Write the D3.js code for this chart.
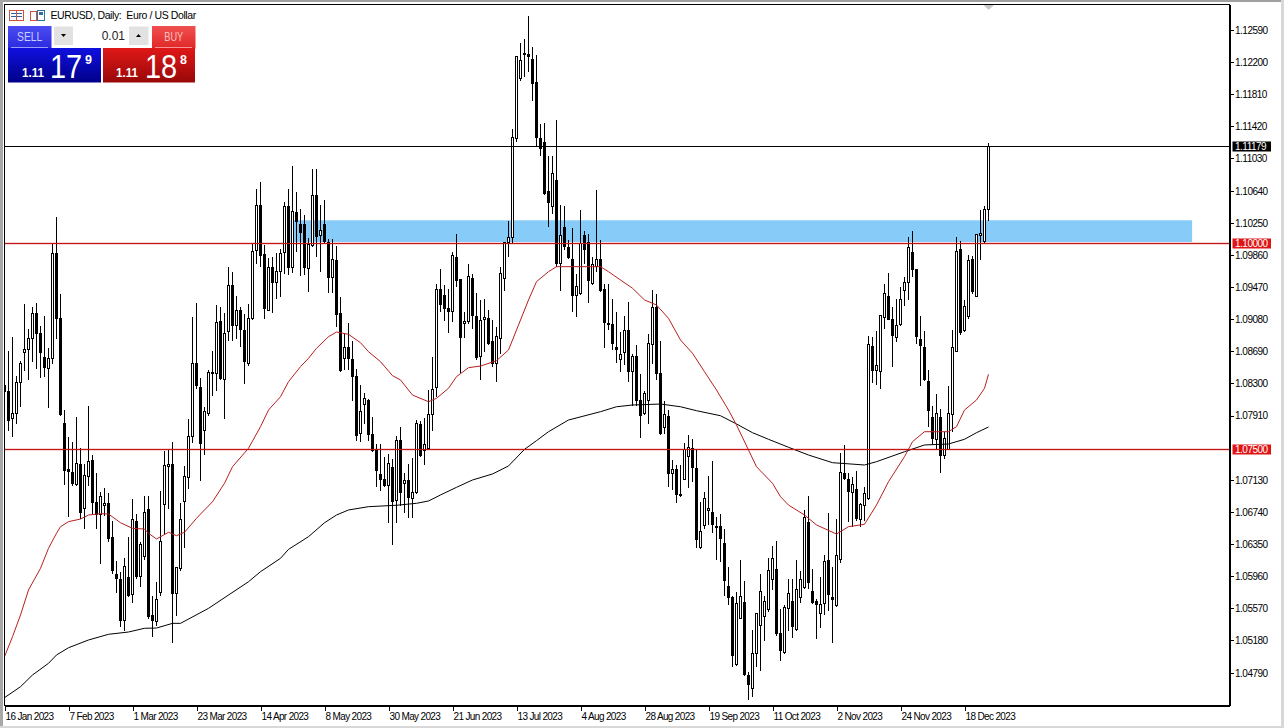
<!DOCTYPE html>
<html>
<head>
<meta charset="utf-8">
<script src="https://cdn.jsdelivr.net/npm/d3@7"></script>
<style>
  html, body { margin: 0; padding: 0; background: #fff; overflow: hidden; }
  svg { display: block; }
  text { font-family: "Liberation Sans", sans-serif; }
  .axis text { font-size: 10px; letter-spacing: -0.5px; fill: #000; }
  .axis.dates text { letter-spacing: -0.65px; }
  .axis path, .axis line { stroke: #000; shape-rendering: crispEdges; }
</style>
</head>
<body>
<svg id="chart" width="1284" height="728"></svg>
<script>
//  ======================= DATA =======================
const open = [1.08280,1.08208,1.07872,1.07937,1.08313,1.08673,1.08713,1.08847,1.09150,1.08900,
1.08616,1.08483,1.08604,1.09879,1.09090,1.07815,1.07257,1.07220,1.07079,1.07318,
1.06779,1.07168,1.07370,1.06856,1.06715,1.06816,1.06844,1.06431,1.05986,1.05926,
1.05420,1.05946,1.05740,1.06622,1.05962,1.06197,1.06771,1.05485,1.05412,1.05760,
1.06832,1.07289,1.07318,1.05752,1.06055,1.06864,1.07160,1.07661,1.08543,1.08252,
1.07726,1.07937,1.08418,1.08422,1.09053,1.08349,1.08928,1.09490,1.09001,1.09187,
1.08944,1.08544,1.09090,1.09915,1.10461,1.09867,1.09191,1.09709,1.09523,1.09660,
1.09887,1.10453,1.09709,1.10380,1.10223,1.10231,1.09697,1.09980,1.10583,1.10093,
1.10223,1.10008,1.09587,1.09794,1.09150,1.08600,1.08738,1.08592,1.08390,1.07694,
1.08046,1.08098,1.07682,1.07504,1.07196,1.07136,1.07063,1.07281,1.06877,1.07613,
1.07085,1.07116,1.06906,1.06978,1.07804,1.07480,1.07513,1.07917,1.08253,1.09434,
1.09370,1.09212,1.09171,1.09831,1.09556,1.09030,1.09050,1.09576,1.09111,1.08625,
1.09070,1.09090,1.08803,1.08536,1.08848,1.09576,1.10009,1.10070,1.11275,1.12004,
1.12303,1.12295,1.12234,1.11955,1.11275,1.11227,1.10624,1.10446,1.10765,1.09750,
1.10195,1.09944,1.09807,1.09366,1.09386,1.10098,1.10009,1.09507,1.09718,1.09807,
1.09434,1.09030,1.09018,1.08738,1.08589,1.08674,1.08945,1.08443,1.08629,1.08091,
1.07933,1.08091,1.08771,1.09224,1.08423,1.07763,1.07901,1.07209,1.07258,1.06954,
1.07136,1.07419,1.07512,1.07270,1.06307,1.06574,1.06752,1.06736,1.06558,1.06558,
1.06359,1.05841,1.05704,1.04891,1.05449,1.05647,1.04757,1.04599,1.05024,1.05364,
1.05469,1.05562,1.05922,1.06044,1.05259,1.05032,1.05566,1.05655,1.05315,1.05704,
1.05825,1.06618,1.05776,1.05655,1.05509,1.05623,1.06145,1.05704,1.05610,1.06165,
1.07209,1.07128,1.06974,1.07014,1.06650,1.06816,1.06905,1.08754,1.08455,1.08447,
1.09098,1.09361,1.09070,1.08859,1.09013,1.09426,1.09527,1.09895,1.09677,1.08835,
1.08738,1.08329,1.07888,1.07621,1.07888,1.07431,1.07500,1.07925,1.08685,1.09928,
1.08940,1.09110,1.09798,1.09353,1.10097,1.10017,1.10413];

const high = [1.08341,1.08697,1.08875,1.08402,1.08584,1.09264,1.08968,1.09231,1.09284,1.08997,
1.09130,1.08738,1.10012,1.10332,1.09393,1.07985,1.07661,1.07601,1.07904,1.07524,
1.07330,1.08038,1.07439,1.07220,1.06986,1.07038,1.06978,1.06642,1.06156,1.06015,
1.06189,1.06440,1.06905,1.06723,1.06379,1.06945,1.06945,1.05731,1.05901,1.07006,
1.07483,1.07500,1.07601,1.06075,1.06852,1.07309,1.07876,1.09118,1.09284,1.08374,
1.08018,1.08471,1.08705,1.09260,1.09239,1.09159,1.09721,1.09656,1.09373,1.09231,
1.09150,1.09272,1.10000,1.10668,1.10749,1.09992,1.09830,1.09838,1.09895,1.09939,
1.10506,1.10668,1.10951,1.10635,1.10425,1.10352,1.10073,1.10910,1.10910,1.10474,
1.10534,1.10061,1.10061,1.09980,1.09349,1.08908,1.09041,1.08827,1.08483,1.08281,
1.08188,1.08119,1.07896,1.07573,1.07573,1.07411,1.07451,1.07390,1.07674,1.07783,
1.07216,1.07334,1.07395,1.07868,1.07844,1.07889,1.08232,1.08624,1.09515,1.09697,
1.09495,1.09455,1.09900,1.10114,1.09564,1.09171,1.09758,1.09637,1.09402,1.09313,
1.09333,1.09192,1.09070,1.08989,1.09718,1.10021,1.10272,1.11397,1.12275,1.12441,
1.12489,1.12760,1.12388,1.12287,1.11449,1.11469,1.11061,1.11061,1.11498,1.10474,
1.10454,1.10041,1.10195,1.09637,1.10414,1.10155,1.10114,1.09839,1.10648,1.10041,
1.09515,1.09515,1.09333,1.09171,1.08928,1.09123,1.09293,1.08665,1.08767,1.08415,
1.08220,1.08908,1.09442,1.09394,1.08815,1.08087,1.07978,1.07371,1.07310,1.07310,
1.07585,1.07686,1.07634,1.07512,1.06865,1.06986,1.07177,1.07359,1.06683,1.06723,
1.06541,1.06084,1.05732,1.05773,1.06157,1.05914,1.04802,1.05315,1.05510,1.05995,
1.05732,1.06189,1.06335,1.06388,1.05570,1.05611,1.05934,1.05934,1.06157,1.06035,
1.06772,1.06934,1.06056,1.05691,1.05962,1.06229,1.06731,1.06076,1.06662,1.07459,
1.07553,1.07217,1.07168,1.07249,1.06853,1.07055,1.08876,1.08867,1.08948,1.09139,
1.09515,1.09648,1.09232,1.09333,1.09482,1.09596,1.10089,1.10162,1.09685,1.09130,
1.08948,1.08463,1.08038,1.08172,1.07998,1.07714,1.08269,1.08957,1.10089,1.10033,
1.09313,1.09867,1.09847,1.10122,1.10405,1.10454,1.11230];

const low = [1.08139,1.07734,1.07653,1.07815,1.08017,1.08454,1.08349,1.08564,1.08483,1.08369,
1.08382,1.08009,1.08543,1.08847,1.07916,1.07079,1.06682,1.07067,1.07067,1.06662,
1.06541,1.07059,1.06723,1.06541,1.06116,1.06703,1.06379,1.05994,1.05760,1.05347,
1.05307,1.05711,1.05638,1.05934,1.05841,1.06164,1.05448,1.05226,1.05367,1.05723,
1.06480,1.06783,1.05153,1.05489,1.06027,1.06310,1.07026,1.07581,1.08240,1.07119,
1.07439,1.07916,1.08159,1.08220,1.08349,1.07876,1.08819,1.08827,1.08847,1.08746,
1.08301,1.08523,1.09070,1.09757,1.09717,1.09090,1.09179,1.09159,1.09333,1.09361,
1.09636,1.09628,1.09644,1.09907,1.09604,1.09628,1.09413,1.09960,1.09846,1.09656,
1.10008,1.09401,1.09401,1.08989,1.08442,1.08463,1.08463,1.08098,1.07613,1.07593,
1.07815,1.07613,1.07471,1.07055,1.06998,1.07047,1.06610,1.06347,1.06610,1.06824,
1.06731,1.06670,1.06667,1.06966,1.07419,1.07322,1.07504,1.07726,1.08139,1.09171,
1.09062,1.08916,1.09050,1.09475,1.08431,1.08856,1.09022,1.08969,1.08593,1.08350,
1.08686,1.08767,1.08504,1.08322,1.08666,1.09426,1.09839,1.10009,1.11235,1.11975,
1.12024,1.12084,1.11732,1.11182,1.11065,1.10587,1.10203,1.10365,1.09718,1.09426,
1.09920,1.09819,1.09171,1.09111,1.09374,1.09758,1.09281,1.09495,1.09657,1.09414,
1.08734,1.08949,1.08706,1.08552,1.08443,1.08524,1.08322,1.08038,1.08038,1.07642,
1.07917,1.07808,1.08536,1.08350,1.07686,1.07694,1.07047,1.07015,1.06853,1.06926,
1.07128,1.07035,1.07108,1.06311,1.06299,1.06541,1.06582,1.06489,1.06157,1.06137,
1.05732,1.05611,1.04862,1.04882,1.05441,1.04757,1.04458,1.04498,1.04870,1.04814,
1.05178,1.05530,1.05801,1.05239,1.04935,1.05024,1.05307,1.05218,1.05299,1.05639,
1.05813,1.05813,1.05631,1.05206,1.05339,1.05501,1.05550,1.05157,1.05598,1.06124,
1.07136,1.06622,1.06569,1.06642,1.06561,1.06642,1.06893,1.08309,1.08281,1.08240,
1.08969,1.09070,1.08511,1.08807,1.08997,1.09240,1.09313,1.09596,1.08787,1.08269,
1.08341,1.07775,1.07553,1.07512,1.07217,1.07391,1.07499,1.07714,1.08683,1.08888,
1.08928,1.09082,1.09393,1.09351,1.09798,1.10000,1.10275];

const close = [1.08200,1.07856,1.07937,1.08313,1.08543,1.08713,1.08847,1.09150,1.08900,1.08673,
1.08491,1.08604,1.09879,1.09090,1.07928,1.07241,1.07229,1.07087,1.07330,1.06731,
1.07184,1.07354,1.06856,1.06715,1.06929,1.06844,1.06419,1.06027,1.05930,1.05420,
1.06075,1.05731,1.06650,1.05954,1.06351,1.06735,1.05477,1.05420,1.05679,1.06383,
1.07305,1.07318,1.05752,1.06067,1.06650,1.07176,1.07661,1.08543,1.08272,1.07573,
1.07965,1.08434,1.08434,1.09041,1.08357,1.08908,1.09490,1.09001,1.09187,1.08960,
1.08564,1.09090,1.09903,1.10461,1.09854,1.09211,1.09709,1.09523,1.09660,1.09879,
1.10453,1.09709,1.10389,1.10263,1.10130,1.09709,1.09984,1.10575,1.10089,1.10158,
1.10020,1.09587,1.09806,1.09134,1.08455,1.08738,1.08600,1.08382,1.07674,1.07965,
1.08119,1.07686,1.07484,1.07241,1.07136,1.07063,1.07330,1.06864,1.07613,1.06974,
1.07122,1.06913,1.06978,1.07816,1.07431,1.07561,1.07925,1.08229,1.09442,1.09256,
1.09208,1.09171,1.09855,1.09548,1.08856,1.09054,1.09596,1.09119,1.08617,1.09066,
1.09099,1.08779,1.08536,1.08872,1.09637,1.10009,1.10070,1.11287,1.12263,1.12222,
1.12307,1.12267,1.11943,1.11283,1.11154,1.10608,1.10494,1.10850,1.09750,1.10098,
1.09960,1.09831,1.09366,1.09479,1.10001,1.09920,1.09548,1.09738,1.09807,1.09422,
1.09038,1.09013,1.08779,1.08706,1.08653,1.08945,1.08443,1.08629,1.08091,1.07905,
1.08180,1.08787,1.09224,1.08419,1.07694,1.07925,1.07209,1.07258,1.06954,1.06938,
1.07492,1.07525,1.07282,1.06408,1.06505,1.06905,1.06776,1.06586,1.06553,1.06420,
1.05906,1.05700,1.04992,1.05631,1.05716,1.04765,1.04640,1.05024,1.05502,1.05777,
1.05655,1.06032,1.06177,1.05259,1.05056,1.05582,1.05752,1.05348,1.05801,1.05922,
1.06675,1.05882,1.05639,1.05614,1.05619,1.06140,1.05740,1.05679,1.06213,1.07221,
1.07152,1.06986,1.07075,1.06662,1.06832,1.06966,1.08774,1.08455,1.08520,1.09130,
1.09393,1.09078,1.08880,1.09005,1.09321,1.09523,1.09944,1.09685,1.08867,1.08758,
1.08346,1.07969,1.07629,1.07929,1.07431,1.07633,1.07937,1.08738,1.09907,1.08920,
1.09228,1.09794,1.09410,1.10102,1.10122,1.10413,1.11179];

//  Moving averages, read at the bars where the line bends
const fastIdx = [0,2,4,6,9,11,13,14,16,19,21,24,26,29,32,35,36,38,41,43,45,48,50,52,55,57,61,64,66,69,71,74,76,78,81,83,86,89,91,94,97,99,102,106,108,111,113,116,119,123,126,128,131,133,136,138,142,149,151,154,157,160,163,166,169,172,175,178,181,183,186,188,192,194,196,200,203,208,211,215,218,221,225,227,230,233,236,238,240,243,245,246];
const fastMA = [1.04983,1.05226,1.05489,1.05793,1.06056,1.06299,1.06481,1.06561,1.06622,1.06654,1.06703,1.06719,1.06715,1.06609,1.06541,1.06533,1.06481,1.06412,1.06493,1.06452,1.06493,1.06663,1.06764,1.06864,1.07088,1.07289,1.07513,1.07775,1.07977,1.08139,1.08321,1.08503,1.08605,1.08726,1.08867,1.08924,1.08896,1.08794,1.08685,1.08564,1.08394,1.08342,1.08159,1.08078,1.08119,1.08241,1.08382,1.08491,1.08511,1.08576,1.08706,1.08948,1.09313,1.09535,1.09656,1.09717,1.09717,1.09717,1.09656,1.09555,1.09455,1.09313,1.09252,1.09090,1.08827,1.08666,1.08442,1.08220,1.07977,1.07795,1.07492,1.07289,1.07088,1.06925,1.06824,1.06703,1.06582,1.06472,1.06561,1.06590,1.06824,1.07107,1.07411,1.07593,1.07714,1.07714,1.07714,1.07775,1.07977,1.08099,1.08241,1.08411];
const slowIdx = [0,4,7,11,13,16,21,26,31,35,38,42,44,51,56,61,64,69,71,76,80,83,86,91,98,103,106,109,113,117,122,126,130,133,136,141,149,153,157,164,169,173,179,183,187,191,196,201,207,215,218,225,230,236,240,243,246];
const slowMA = [1.04486,1.04619,1.04761,1.04903,1.05004,1.05092,1.05186,1.05255,1.05283,1.05328,1.05331,1.05388,1.05388,1.05570,1.05732,1.05893,1.06015,1.06177,1.06286,1.06440,1.06609,1.06703,1.06764,1.06804,1.06821,1.06845,1.06873,1.06946,1.07039,1.07128,1.07201,1.07298,1.07500,1.07605,1.07714,1.07856,1.07957,1.08017,1.08038,1.08050,1.08017,1.07969,1.07908,1.07808,1.07702,1.07622,1.07525,1.07431,1.07338,1.07310,1.07350,1.07471,1.07553,1.07565,1.07622,1.07702,1.07771];

//  Every 16th bar carries a date label
const dateLabels = ['16 Jan 2023','7 Feb 2023','1 Mar 2023','23 Mar 2023','14 Apr 2023','8 May 2023','30 May 2023','21 Jun 2023','13 Jul 2023','4 Aug 2023','28 Aug 2023','19 Sep 2023','11 Oct 2023','2 Nov 2023','24 Nov 2023','18 Dec 2023'];
const priceTicks = [1.12590,1.12200,1.11810,1.11420,1.11030,1.10640,1.10250,1.09860,1.09470,1.09080,1.08690,1.08300,1.07910,1.07130,1.06740,1.06350,1.05960,1.05570,1.05180,1.04790];

const lastPrice = 1.11179;
const levels = [1.10000, 1.07500];
const zoneTop = 1.10280, zoneBottom = 1.10000;
const zoneStartBar = 71.5, zoneEndBar = 296.9;


//  ======================= SCALES ===============================
const svg = d3.select('#chart');
const plot = { left: 4.5, right: 1229.5, top: 4.5, bottom: 705.5 };

const xScale = d3.scaleLinear().domain([0, 1]).range([4.5, 8.5]);
const yScale = d3.scaleLinear().domain([1.04397, 1.12899]).range([705, 4.5]);
const snap = v => Math.round(v - 0.5) + 0.5;

const defs = svg.append('defs');
defs.append('clipPath').attr('id', 'plotClip').append('rect')
    .attr('x', plot.left).attr('y', plot.top)
    .attr('width', plot.right - plot.left).attr('height', plot.bottom - plot.top);


//  ======================= WINDOW EDGES ===============================
svg.append('rect').attr('width', 1284).attr('height', 728).attr('fill', '#fff');
svg.append('rect').attr('width', 1284).attr('height', 2).attr('fill', '#a0a0a0');
svg.append('rect').attr('width', 3).attr('height', 728).attr('fill', '#a8a8a8');
svg.append('rect').attr('x', 1281).attr('width', 3).attr('height', 728).attr('fill', '#d8d8d8');
svg.append('rect').attr('y', 726).attr('width', 1284).attr('height', 2).attr('fill', '#d8d8d8');


//  ======================= BLUE ZONE ===============================
svg.append('rect')
    .attr('x', xScale(zoneStartBar))
    .attr('y', yScale(zoneTop))
    .attr('width', xScale(zoneEndBar) - xScale(zoneStartBar))
    .attr('height', yScale(zoneBottom) - yScale(zoneTop))
    .attr('fill', '#87cbf9');

//  soft pink edge of the level lines, as in the screenshot. Stays under the candles
levels.forEach(p => {
    svg.append('line')
        .attr('x1', plot.left).attr('x2', plot.right)
        .attr('y1', snap(yScale(p))).attr('y2', snap(yScale(p)))
        .attr('stroke', '#f9d4d4').attr('stroke-width', 3).attr('shape-rendering', 'crispEdges');
});


//  ======================= CANDLES ===============================
const bars = d3.range(open.length);
const candles = svg.append('g').attr('shape-rendering', 'crispEdges').attr('clip-path', 'url(#plotClip)');

candles.selectAll('line')
    .data(bars)
    .enter()
    .append('line')
    .attr('x1', i => xScale(i))
    .attr('x2', i => xScale(i))
    .attr('y1', i => snap(yScale(high[i])))
    .attr('y2', i => snap(yScale(low[i])))
    .attr('stroke', '#000');

candles.selectAll('rect')
    .data(bars)
    .enter()
    .append('rect')
    .attr('x', i => xScale(i) - 1)
    .attr('width', 2)
    .attr('y', i => snap(yScale(Math.max(open[i], close[i]))))
    .attr('height', i => Math.max(1, snap(yScale(Math.min(open[i], close[i]))) - snap(yScale(Math.max(open[i], close[i])))))
    .attr('fill', i => close[i] >= open[i] ? '#fff' : '#000')
    .attr('stroke', '#000');


//  ======================= MOVING AVERAGES ===============================
const maLine = d3.line().x(d => xScale(d[0])).y(d => yScale(d[1]));

svg.append('path')
    .attr('d', maLine(slowIdx.map((b, i) => [b, slowMA[i]])))
    .attr('fill', 'none').attr('stroke', '#000').attr('stroke-width', 1);
svg.append('path')
    .attr('d', maLine(fastIdx.map((b, i) => [b, fastMA[i]])))
    .attr('fill', 'none').attr('stroke', '#b52020').attr('stroke-width', 1);


//  ======================= LEVEL LINES ===============================
const lineGroup = svg.append('g').attr('shape-rendering', 'crispEdges');
levels.forEach(p => {
    lineGroup.append('line')
        .attr('x1', plot.left).attr('x2', plot.right)
        .attr('y1', snap(yScale(p))).attr('y2', snap(yScale(p)))
        .attr('stroke', '#c01818');
});
lineGroup.append('line')
    .attr('x1', plot.left).attr('x2', plot.right)
    .attr('y1', snap(yScale(lastPrice))).attr('y2', snap(yScale(lastPrice)))
    .attr('stroke', '#000');


//  ======================= AXES ===============================
const yAxis = svg.append('g')
    .attr('class', 'axis')
    .attr('transform', `translate(${plot.right},0)`)
    .call(d3.axisRight(yScale).tickValues(priceTicks).tickFormat(d3.format('.5f')).tickSize(4).tickSizeOuter(0));
yAxis.selectAll('text').attr('x', 5.5).attr('dy', '0.34em');

const xAxis = svg.append('g')
    .attr('class', 'axis dates')
    .attr('transform', `translate(0,${plot.bottom})`)
    .call(d3.axisBottom(xScale)
        .tickValues(dateLabels.map((d, i) => i * 16))
        .tickFormat((d, i) => dateLabels[i])
        .tickSize(5)
        .tickSizeOuter(0));
xAxis.select('.domain').attr('d', `M${plot.left},0.5H${plot.right}`);
xAxis.selectAll('text').attr('text-anchor', 'start').attr('x', 0.5).attr('y', 7).attr('dy', '0.71em');

svg.append('rect')
    .attr('x', plot.left).attr('y', plot.top)
    .attr('width', plot.right - plot.left).attr('height', plot.bottom - plot.top)
    .attr('fill', 'none').attr('stroke', '#000').attr('shape-rendering', 'crispEdges');


//  ======================= PRICE TAGS ===============================
function priceTag(p, bg) {
    const cy = snap(yScale(p));
    svg.append('rect').attr('x', 1232.5).attr('y', cy - 5).attr('width', 38.5).attr('height', 10).attr('fill', bg);
    svg.append('text').text(p.toFixed(5))
        .attr('x', 1235).attr('y', cy + 3.5)
        .attr('fill', '#fff').attr('font-size', 10).attr('letter-spacing', -0.5);
}
priceTag(lastPrice, '#000');
levels.forEach(p => priceTag(p, '#e01414'));

//  Little grey shift marker at the top of the chart
svg.append('path').attr('d', 'M983.5,5 H994 L988.7,10 Z').attr('fill', '#c8c8c8');


//  ======================= TITLE AND ICONS ===============================
svg.append('text').text('EURUSD, Daily:  Euro / US Dollar')
    .attr('x', 50.5).attr('y', 19).attr('font-size', 10.5).attr('letter-spacing', -0.4)
    .attr('xml:space', 'preserve').attr('fill', '#000');

const icons = svg.append('g').attr('fill', 'none').attr('shape-rendering', 'crispEdges');
icons.append('rect').attr('x', 9.5).attr('y', 10.5).attr('width', 14).attr('height', 10).attr('stroke', '#d05040').attr('fill', '#fff');
[13.5, 16.5].forEach(y => icons.append('line').attr('x1', 11).attr('x2', 22).attr('y1', y).attr('y2', y).attr('stroke', '#3060a0'));
icons.append('line').attr('x1', 16.5).attr('x2', 16.5).attr('y1', 11).attr('y2', 20).attr('stroke', '#d05040');
icons.append('rect').attr('x', 30.5).attr('y', 11.5).attr('width', 6).attr('height', 9).attr('stroke', '#d05040');
icons.append('rect').attr('x', 37.5).attr('y', 10.5).attr('width', 7).attr('height', 10).attr('stroke', '#3070a0');
icons.append('rect').attr('x', 39).attr('y', 12).attr('width', 4).attr('height', 3).attr('fill', '#3070a0');


//  ======================= ONE CLICK TRADING PANEL ===============================
function gradient(id, top, bottom) {
    const g = defs.append('linearGradient').attr('id', id).attr('x1', 0).attr('x2', 0).attr('y1', 0).attr('y2', 1);
    g.append('stop').attr('offset', 0).attr('stop-color', top);
    g.append('stop').attr('offset', 1).attr('stop-color', bottom);
}
gradient('sellTop', '#4c4cf2', '#2a2ae0');
gradient('sellBody', '#1010e0', '#000088');
gradient('buyTop', '#f05050', '#e02828');
gradient('buyBody', '#e01818', '#980808');

const quotes = [
    { label: 'SELL', big: '17', small: '9', btn: 8, body: 8, bodyW: 93, topFill: 'url(#sellTop)', bodyFill: 'url(#sellBody)', ink: '#c8d0ff', lead: 22, bigX: 50, smallX: 85 },
    { label: 'BUY', big: '18', small: '8', btn: 152, body: 103, bodyW: 92, topFill: 'url(#buyTop)', bodyFill: 'url(#buyBody)', ink: '#ffc0c0', lead: 116, bigX: 145, smallX: 180 }
];
quotes.forEach(q => {
    svg.append('rect').attr('x', q.btn).attr('y', 26).attr('width', 43.5).attr('height', 22.5).attr('fill', q.topFill);
    svg.append('rect').attr('x', q.body).attr('y', 48).attr('width', q.bodyW).attr('height', 34.5).attr('fill', q.bodyFill);
    svg.append('line').attr('x1', q.btn + 3).attr('x2', q.btn + 40).attr('y1', 47.5).attr('y2', 47.5).attr('stroke', q.ink).attr('stroke-opacity', 0.7);
    svg.append('text').text(q.label).attr('x', q.btn + 21.7).attr('y', 41).attr('text-anchor', 'middle')
        .attr('font-size', 12).attr('textLength', q.label.length * 6.3).attr('lengthAdjust', 'spacingAndGlyphs').attr('fill', q.ink);
    svg.append('text').text('1.11').attr('x', q.lead).attr('y', 77).attr('font-size', 12.5).attr('font-weight', 'bold')
        .attr('textLength', 22).attr('lengthAdjust', 'spacingAndGlyphs').attr('fill', '#fff');
    //  The big digits are narrow in the original, squeeze them sideways
    svg.append('text').text(q.big).attr('transform', `translate(${q.bigX},78) scale(0.85,1)`).attr('font-size', 34).attr('fill', '#fff');
    svg.append('text').text(q.small).attr('x', q.smallX).attr('y', 64).attr('font-size', 12.5).attr('font-weight', 'bold').attr('fill', '#fff');
});

svg.append('rect').attr('x', 54).attr('y', 26.5).attr('width', 19).attr('height', 18.5).attr('fill', '#e2e2e2');
svg.append('rect').attr('x', 73).attr('y', 26.5).attr('width', 56).attr('height', 18.5).attr('fill', '#fff');
svg.append('rect').attr('x', 129).attr('y', 26.5).attr('width', 19.5).attr('height', 18.5).attr('fill', '#e2e2e2');
svg.append('path').attr('d', 'M61,34 H66 L63.5,37 Z').attr('fill', '#000');
svg.append('path').attr('d', 'M136,37 H141 L138.5,34 Z').attr('fill', '#000');
svg.append('text').text('0.01').attr('x', 125).attr('y', 40).attr('text-anchor', 'end').attr('font-size', 12).attr('fill', '#222');
</script>
</body>
</html>
